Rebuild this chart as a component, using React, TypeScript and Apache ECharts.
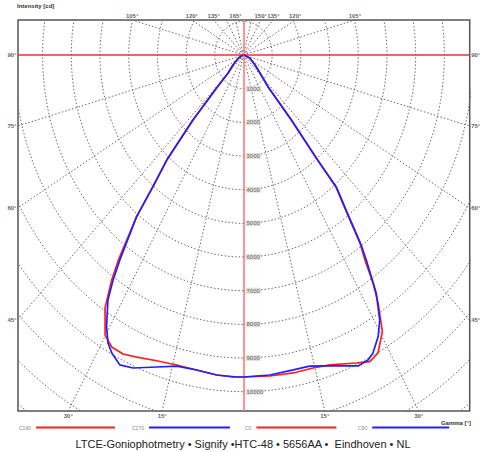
import React, { useEffect, useRef } from "react";
import * as echarts from "echarts";

// ---- data (gamma in degrees, intensity in cd) ----
const c0Gamma = [0, 5.5, 10.4, 14.6, 18.1, 23.2, 25.8, 27.9, 30.5, 32.5, 33.7, 34.8, 36.0, 37.4, 39.4, 39.6, 40.8, 41.3, 42.1, 47.1, 53.5, 66.6, 90];
const c0Intensity = [9563, 9578, 9601, 9606, 9684, 9952, 10115, 10015, 9535, 8730, 8137, 7410, 6897, 5985, 5075, 3967, 2550, 1779, 1268, 785, 499, 247, 30];

const c90Gamma = [0, 5.5, 10.5, 14.0, 17.4, 20.6, 23.4, 25.6, 27.0, 29.3, 31.1, 33.2, 35.1, 36.1, 37.5, 39.5, 39.7, 40.9, 41.4, 42.2, 47.1, 53.5, 66.6, 90];
const c90Intensity = [9563, 9548, 9513, 9521, 9677, 9866, 10062, 10044, 9935, 9590, 9190, 8443, 7441, 6920, 6010, 5100, 3990, 2560, 1785, 1270, 785, 499, 247, 30];

const c180Gamma = [0, 2.2, 5.6, 9.9, 14.2, 18.4, 22.5, 25.3, 27.9, 30.1, 32.7, 34.5, 35.6, 37.8, 38.9, 40.6, 42.4, 43.0, 43.9, 45.1, 50.9, 61.6, 90];
const c180Intensity = [9563, 9570, 9550, 9497, 9497, 9570, 9710, 9823, 9813, 9615, 8930, 8108, 7490, 6076, 5024, 4109, 2612, 1828, 1307, 757, 471, 206, 30];

const c270Gamma = [0, 1.4, 5.6, 9.9, 14.1, 18.1, 22.5, 25.1, 27.4, 28.9, 30.6, 33.0, 34.2, 35.3, 37.8, 38.9, 40.6, 42.4, 43.0, 43.9, 45.1, 50.9, 61.6, 90];
const c270Intensity = [9563, 9566, 9550, 9497, 9526, 9748, 10062, 10163, 9971, 9770, 9373, 8674, 8083, 7455, 6076, 5024, 4109, 2612, 1828, 1307, 757, 471, 206, 30];

// grid / tick definitions
const ringValues = [1000, 2000, 3000, 4000, 5000, 6000, 7000, 8000, 9000, 10000, 11000, 12000, 13000];
const ringLabelValues = [1000, 2000, 3000, 4000, 5000, 6000, 7000, 8000, 9000, 10000];
const spokeAngles = [15, 30, 45, 60, 75, 105, 120, 135, 150, 165];
const topLeftAngleLabels = [105, 120, 135, 165];
const topRightAngleLabels = [150, 135, 120, 105];
const sideAngleLabels = [90, 75, 60, 45];
const bottomAngleLabels = [30, 15];

const titleText = "LTCE-Goniophotmetry \u2022 Signify \u2022HTC-48 \u2022 5656AA \u2022  Eindhoven \u2022 NL";

// visible window of the diagram (cd)
const XMIN = -7857, XMAX = 7882, YMIN = -10573, YMAX = 1040;

const RED = "#ff1f1f";
const BLUE = "#2020ff";

const rad = (g: number) => (g * Math.PI) / 180;
const toXY = (g: number, i: number, side: number) => [side * i * Math.sin(rad(g)), -i * Math.cos(rad(g))];

function curve(gammas: number[], vals: number[], side: number) {
  return gammas.map((g, k) => toXY(g, vals[k], side));
}

function boxHit(g: number, side: number) {
  const dx = side * Math.sin(rad(g));
  const dy = -Math.cos(rad(g));
  let best = Infinity;
  let where = "";
  if (Math.abs(dx) > 1e-9) {
    const t = (dx > 0 ? XMAX : XMIN) / dx;
    if (t > 0 && t < best) { best = t; where = dx > 0 ? "right" : "left"; }
  }
  if (Math.abs(dy) > 1e-9) {
    const t = (dy > 0 ? YMAX : YMIN) / dy;
    if (t > 0 && t < best) { best = t; where = dy > 0 ? "top" : "bottom"; }
  }
  return { value: [dx * best, dy * best, g], label: { position: where } };
}

export default function App() {
  const ref = useRef<HTMLDivElement>(null);
  useEffect(() => {
    if (!ref.current) return;
    const chart = echarts.init(ref.current, null, { renderer: "svg" });

    const gridStyle = { color: "#6a6a6a", width: 1, type: [1.5, 2] as any };
    const ringSeries = ringValues.map((r) => {
      const pts: number[][] = [];
      for (let a = 0; a <= 360; a += 2) pts.push([r * Math.sin(rad(a)), -r * Math.cos(rad(a))]);
      return { type: "line", data: pts, symbol: "none", silent: true, clip: true, lineStyle: gridStyle, z: 1 };
    });
    const spokeSeries: any[] = [];
    spokeAngles.forEach((g) => {
      [1, -1].forEach((s) => {
        spokeSeries.push({
          type: "line",
          data: [[0, 0], toXY(g, 16000, s)],
          symbol: "none",
          silent: true,
          clip: true,
          lineStyle: gridStyle,
          z: 1,
        });
      });
    });

    const angleLabelData = [
      ...topLeftAngleLabels.map((g) => boxHit(g, -1)),
      ...topRightAngleLabels.map((g) => boxHit(g, 1)),
      ...sideAngleLabels.map((g) => boxHit(g, -1)),
      ...sideAngleLabels.map((g) => boxHit(g, 1)),
      ...bottomAngleLabels.map((g) => boxHit(g, -1)),
      ...bottomAngleLabels.map((g) => boxHit(g, 1)),
    ];

    const curveSeries = (name: string, color: string, data: number[][]) => ({
      name,
      type: "line",
      data,
      symbol: "none",
      smooth: false,
      clip: true,
      color,
      lineStyle: { color, width: 1.7 },
      z: 5,
    });

    const legendItem = (name: string, left: number, textWidth: number, itemWidth: number, color: string) => ({
      data: [{ name, textStyle: { color: "#8a8a8a" } }],
      left,
      top: 425,
      padding: 0,
      itemGap: 0,
      align: "right",
      icon: "rect",
      itemWidth,
      itemHeight: 2,
      selectedMode: false,
      itemStyle: { color },
      textStyle: { fontSize: 5, color: "#8a8a8a", width: textWidth, fontFamily: "Liberation Sans, Arial" },
    });

    chart.setOption({
      animation: false,
      textStyle: { fontFamily: "Liberation Sans, Arial, sans-serif" },
      title: [
        { text: "Intensity [cd]", left: 17, top: 3, padding: 0, textStyle: { fontSize: 6, fontWeight: "bold", color: "#333" } },
        { text: "Gamma [\u00b0]", right: 15, top: 420, padding: 0, textStyle: { fontSize: 6, fontWeight: "bold", color: "#333" } },
        { text: titleText, left: "center", top: 438, padding: 0, textStyle: { fontSize: 11, fontWeight: "normal", color: "#222" } },
      ],
      legend: [
        legendItem("C180", 19, 19, 79, RED),
        legendItem("C270", 132, 19, 81, BLUE),
        legendItem("C0", 245, 12, 80, RED),
        legendItem("C90", 358, 15, 77, BLUE),
      ],
      grid: { left: 18, top: 20, right: 16.3, bottom: 41, show: true, borderColor: "#555", borderWidth: 1.5, backgroundColor: "#fff", z: 0 },
      xAxis: { type: "value", min: XMIN, max: XMAX, show: false },
      yAxis: { type: "value", min: YMIN, max: YMAX, show: false },
      series: [
        ...ringSeries,
        ...spokeSeries,
        {
          type: "line",
          data: [[0, 0]],
          symbol: "none",
          silent: true,
          z: 3,
          markLine: {
            silent: true,
            symbol: ["none", "none"],
            label: { show: false },
            animation: false,
            data: [
              { xAxis: 0, lineStyle: { color: "#ff7a7a", width: 1.6, type: "solid" } },
              { yAxis: 0, lineStyle: { color: "#f03030", width: 1.6, type: "solid" } },
            ],
          },
        },
        curveSeries("C180", RED, curve(c180Gamma, c180Intensity, -1)),
        curveSeries("C270", BLUE, curve(c270Gamma, c270Intensity, -1)),
        curveSeries("C0", RED, curve(c0Gamma, c0Intensity, 1)),
        curveSeries("C90", BLUE, curve(c90Gamma, c90Intensity, 1)),
        {
          type: "scatter",
          symbolSize: 0,
          silent: true,
          clip: false,
          z: 6,
          data: ringLabelValues.map((r) => [0, -r, r]),
          label: {
            show: true,
            position: "right",
            distance: 2,
            fontSize: 6,
            color: "#444",
            backgroundColor: "#dcdcd4",
            padding: [0, 1],
            formatter: (p: any) => String(p.value[2]),
          },
        },
        {
          type: "scatter",
          symbolSize: 0,
          silent: true,
          clip: false,
          z: 6,
          data: angleLabelData,
          label: {
            show: true,
            distance: 1.5,
            fontSize: 6,
            fontWeight: "bold",
            color: "#333",
            formatter: (p: any) => p.value[2] + "\u00b0",
          },
        },
      ],
    });
    return () => chart.dispose();
  }, []);
  return <div ref={ref} style={{ position: "fixed", left: 0, top: 0, width: 486, height: 452, background: "#fff" }} />;
}
